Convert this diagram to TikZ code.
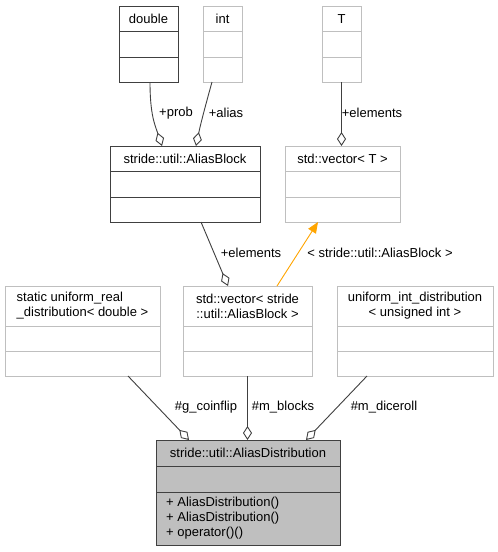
\documentclass[tikz,border=0pt]{standalone}
\usepackage{fontspec}
\setmainfont{Liberation Sans}
\usetikzlibrary{arrows.meta,calc}
\definecolor{lgray}{HTML}{BFBFBF}
\definecolor{dgray}{HTML}{404040}
\definecolor{edgec}{HTML}{404040}
\definecolor{orng}{HTML}{FFA500}
\definecolor{fillg}{HTML}{BFBFBF}
\tikzset{
  umlbox/.style={draw=#1, line width=1pt, inner sep=0pt, outer sep=0pt, anchor=north west},
  txt/.style={inner sep=0pt, font=\fontsize{13}{15}\selectfont},
  lbl/.style={inner sep=0pt, font=\fontsize{13}{15}\selectfont},
  aggr/.style={draw=edgec, line width=0.9pt, -{Diamond[open, length=14pt, width=9pt, line width=0.9pt]}},
  inh/.style={draw=orng, line width=0.9pt, -{Triangle[length=11pt, width=9pt]}},
}
\begin{document}
\begin{tikzpicture}[x=1pt,y=-1pt]
\useasboundingbox (0,0) rectangle (498,552);
\fill[white] (0,0) rectangle (498,552);

% double
\node[umlbox=dgray, minimum width=59pt, minimum height=76pt] (dbl) at (119,6) {};
\draw[dgray, line width=1pt] (119,31) -- (178,31) (119,57) -- (178,57);
\node[txt] (dblt) at (148.5,19) {double};

% int
\node[umlbox=lgray, minimum width=39pt, minimum height=76pt] (int) at (203,6) {};
\draw[lgray, line width=1pt] (203,31) -- (242,31) (203,57) -- (242,57);
\node[txt] (intt) at (222.5,19) {int};

% T
\node[umlbox=lgray, minimum width=39pt, minimum height=76pt] (tt) at (322,6) {};
\draw[lgray, line width=1pt] (322,31) -- (361,31) (322,57) -- (361,57);
\node[txt] (ttt) at (341.5,19) {T};

% AliasBlock
\node[umlbox=dgray, minimum width=150pt, minimum height=76pt] (ab) at (110,146) {};
\draw[dgray, line width=1pt] (110,171) -- (260,171) (110,197) -- (260,197);
\node[txt] (abt) at (185,159) {stride::util::AliasBlock};

% std::vector<T>
\node[umlbox=lgray, minimum width=115pt, minimum height=76pt] (vt) at (285,146) {};
\draw[lgray, line width=1pt] (285,171) -- (400,171) (285,197) -- (400,197);
\node[txt] (vtt) at (342.5,159) {std::vector< T >};

% static uniform_real_distribution
\node[umlbox=lgray, minimum width=155pt, minimum height=90pt] (ur) at (5,286) {};
\draw[lgray, line width=1pt] (5,326) -- (160,326) (5,351) -- (160,351);
\node[txt, align=left] (urt) at (82.5,306) {static uniform\_real\\\_distribution< double >};

% std::vector<AliasBlock>
\node[umlbox=lgray, minimum width=129pt, minimum height=90pt] (vab) at (183,286) {};
\draw[lgray, line width=1pt] (183,326) -- (312,326) (183,351) -- (312,351);
\node[txt, align=center] (vabt) at (247.5,306) {std::vector< stride\\::util::AliasBlock >};

% uniform_int_distribution
\node[umlbox=lgray, minimum width=156pt, minimum height=90pt] (ui) at (337,286) {};
\draw[lgray, line width=1pt] (337,326) -- (493,326) (337,351) -- (493,351);
\node[txt, align=center] (uit) at (415,306) {uniform\_int\_distribution\\< unsigned int >};

% AliasDistribution
\node[umlbox=dgray, fill=fillg, minimum width=184pt, minimum height=105pt] (ad) at (156,440) {};
\draw[dgray, line width=1pt] (156,466) -- (340,466) (156,492) -- (340,492);
\node[txt] (adt) at (248,453) {stride::util::AliasDistribution};
\node[txt, align=left, anchor=north west] (adm) at (166,497) {+ AliasDistribution()\\+ AliasDistribution()\\+ operator()()};

% edges
\draw[aggr] ($(dbl.south west)+(31,0)$) .. controls (150,115) and (155,125) .. ($(ab.north west)+(52,0)$);
\node[lbl] (lprob) at (176,113) {+prob};
\draw[aggr] ($(int.south west)+(9,0)$) .. controls (207,100) and (201,122) .. ($(ab.north west)+(86,0)$);
\node[lbl] (lalias) at (226,113) {+alias};
\draw[aggr] ($(tt.south west)+(19.5,0)$) -- ($(vt.north west)+(56.5,0)$);
\node[lbl] (lel1) at (372,113) {+elements};
\draw[aggr] ($(ab.south west)+(91,0)$) -- ($(vab.north west)+(45,0)$);
\node[lbl] (lel2) at (251,253) {+elements};
\draw[inh] ($(vab.north west)+(94,0)$) -- ($(vt.south west)+(33,0)$);
\node[lbl] (ltpl) at (380,253) {< stride::util::AliasBlock >};
\draw[aggr] ($(ur.south west)+(123,0)$) -- ($(ad.north west)+(33,0)$);
\node[lbl] (lcoin) at (206,407) {\#g\_coinflip};
\draw[aggr] ($(vab.south west)+(64.5,0)$) -- ($(ad.north west)+(91.5,0)$);
\node[lbl] (lblk) at (283,407) {\#m\_blocks};
\draw[aggr] ($(ui.south west)+(30,0)$) -- ($(ad.north west)+(150,0)$);
\node[lbl] (ldice) at (384,407) {\#m\_diceroll};
\end{tikzpicture}
\end{document}
